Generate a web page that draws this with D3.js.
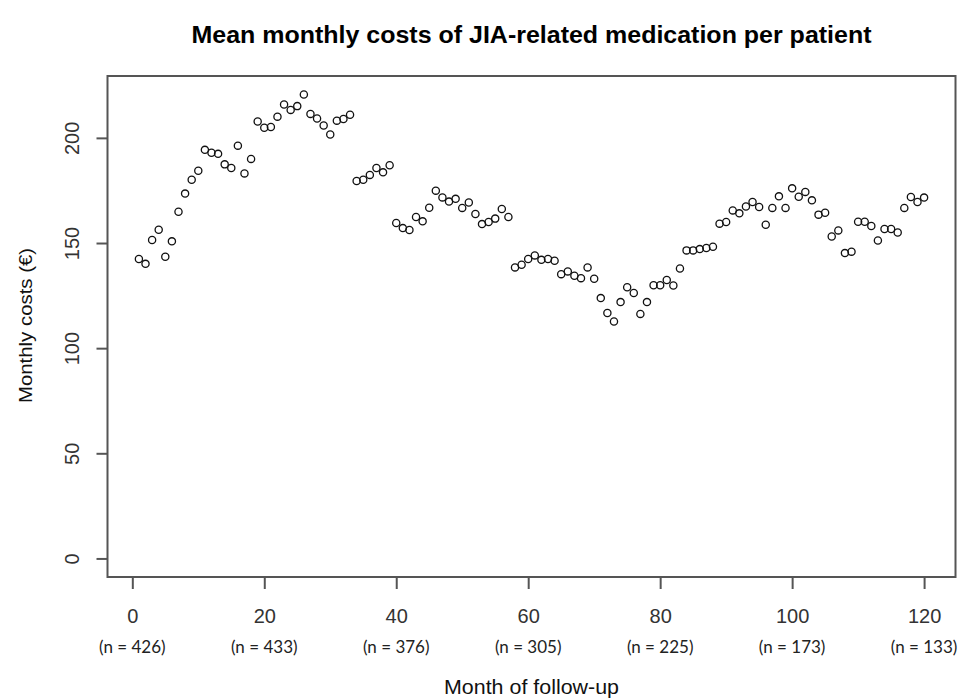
<!DOCTYPE html>
<html>
<head>
<meta charset="utf-8">
<script src="https://cdn.jsdelivr.net/npm/d3@7"></script>
<style>
  html, body { margin: 0; padding: 0; background: #fff; }
  svg { display: block; }
</style>
</head>
<body>
<svg id="chart" width="958" height="700"></svg>
<script>
// ---- Data ----
const months = d3.range(1, 121);
const costs = [
  142.4, 140.1, 151.4, 156.3, 143.5, 150.8, 164.9, 173.5, 180.1, 184.4,
  194.3, 192.9, 192.4, 187.4, 185.7, 196.3, 183.1, 190.0, 207.8, 204.8,
  205.2, 210.1, 215.9, 213.3, 215.1, 220.6, 211.4, 209.2, 205.9, 201.6,
  208.2, 209.0, 211.0, 179.5, 180.1, 182.4, 185.7, 183.6, 187.0, 159.5,
  157.1, 156.2, 162.4, 160.3, 166.8, 174.9, 171.7, 169.7, 171.0, 166.7,
  169.3, 163.8, 159.0, 160.0, 161.6, 166.2, 162.4, 138.4, 139.7, 142.4,
  144.1, 142.0, 142.4, 141.6, 135.2, 136.5, 134.4, 133.3, 138.4, 133.0,
  123.8, 116.7, 112.7, 121.9, 129.0, 126.2, 116.3, 121.9, 129.9, 129.9,
  132.4, 129.8, 137.9, 146.5, 146.5, 147.1, 147.6, 148.2, 159.2, 160.0,
  165.5, 164.1, 167.4, 169.5, 167.1, 158.7, 166.7, 172.2, 166.7, 176.0,
  172.0, 174.3, 170.3, 163.5, 164.4, 153.1, 156.0, 145.2, 145.9, 160.1,
  160.1, 158.1, 151.2, 156.7, 156.7, 155.0, 166.7, 171.9, 169.5, 171.6
];
const xTicks = [0, 20, 40, 60, 80, 100, 120];
const yTicks = [0, 50, 100, 150, 200];
const nLabels = ["(n = 426)", "(n = 433)", "(n = 376)", "(n = 305)", "(n = 225)", "(n = 173)", "(n = 133)"];
const titleText = "Mean monthly costs of JIA-related medication per patient";
const xTitle = "Month of follow-up";
const yTitle = "Monthly costs (\u20AC)";

// ---- Layout ----
const box = { left: 107.5, right: 955.5, top: 76, bottom: 577 };
const svg = d3.select("#chart");

// R-style 4% axis expansion
function rExpand(lo, hi) { const d = (hi - lo) * 0.04; return [lo - d, hi + d]; }
const x = d3.scaleLinear().domain(rExpand(d3.min(months), d3.max(months))).range([box.left, box.right]);
const y = d3.scaleLinear().domain(rExpand(0, d3.max(costs))).range([box.bottom, box.top]);

const ink = "#333";
const font = "'Liberation Sans', Arial, sans-serif";

// Plot box
svg.append("rect")
  .attr("x", box.left).attr("y", box.top)
  .attr("width", box.right - box.left).attr("height", box.bottom - box.top)
  .attr("fill", "none").attr("stroke", "#555").attr("stroke-width", 2);

// X axis
const xAxis = svg.append("g")
  .attr("transform", `translate(0,${box.bottom})`)
  .call(d3.axisBottom(x).tickValues(xTicks).tickSize(12).tickPadding(20).tickFormat(d3.format("d")));
xAxis.select(".domain").remove();
xAxis.selectAll(".tick line").attr("stroke", "#555").attr("stroke-width", 2);
xAxis.selectAll(".tick text")
  .attr("fill", ink).style("font-family", font).style("font-size", "20px");

// n labels under x ticks
svg.append("g").selectAll("text").data(xTicks).join("text")
  .attr("x", d => x(d)).attr("y", 653)
  .attr("text-anchor", "middle")
  .attr("fill", "#222")
  .style("font-family", "Lato, 'Open Sans', sans-serif").style("font-size", "17px")
  .text((d, i) => nLabels[i]);

// Y axis
const yAxis = svg.append("g")
  .attr("transform", `translate(${box.left},0)`)
  .call(d3.axisLeft(y).tickValues(yTicks).tickSize(11).tickPadding(0).tickFormat(d3.format("d")));
yAxis.select(".domain").remove();
yAxis.selectAll(".tick line").attr("stroke", "#555").attr("stroke-width", 2);
yAxis.selectAll(".tick text")
  .attr("x", null).attr("dy", null)
  .attr("text-anchor", "middle")
  .attr("transform", "translate(-29,0) rotate(-90)")
  .attr("fill", ink).style("font-family", font).style("font-size", "20px");

// Points
svg.append("g").selectAll("circle").data(months).join("circle")
  .attr("cx", d => x(d))
  .attr("cy", (d, i) => y(costs[i]))
  .attr("r", 3.6)
  .attr("fill", "none")
  .attr("stroke", "#111")
  .attr("stroke-width", 1.3);

// Title
const cx = (box.left + box.right) / 2;
svg.append("text")
  .attr("x", cx).attr("y", 43)
  .attr("text-anchor", "middle")
  .attr("fill", "#000")
  .attr("textLength", 680).attr("lengthAdjust", "spacingAndGlyphs")
  .style("font-family", font).style("font-weight", "bold").style("font-size", "23px")
  .text(titleText);

// X title
svg.append("text")
  .attr("x", cx).attr("y", 694)
  .attr("text-anchor", "middle")
  .attr("fill", "#111")
  .attr("textLength", 175).attr("lengthAdjust", "spacingAndGlyphs")
  .style("font-family", font).style("font-size", "21px")
  .text(xTitle);

// Y title
svg.append("text")
  .attr("transform", `translate(32,${(248 + 403) / 2}) rotate(-90)`)
  .attr("text-anchor", "middle")
  .attr("fill", "#111")
  .attr("textLength", 155).attr("lengthAdjust", "spacingAndGlyphs")
  .style("font-family", font).style("font-size", "19px")
  .text(yTitle);
</script>
</body>
</html>
